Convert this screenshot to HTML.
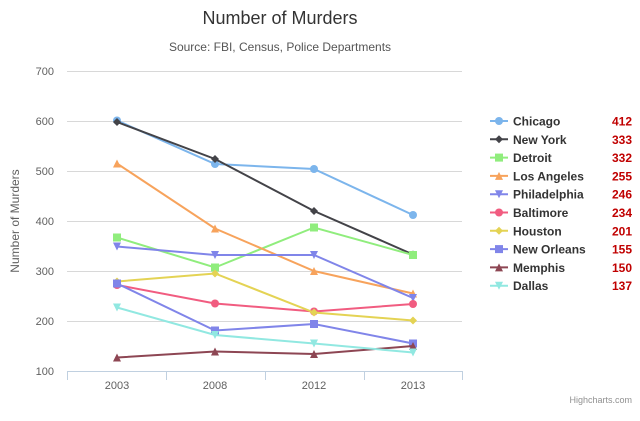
<!DOCTYPE html><html><head><style>body{margin:0;background:#fff}svg{font-family:"Liberation Sans",sans-serif}</style></head><body>
<svg width="640" height="416" xmlns="http://www.w3.org/2000/svg">
<text x="280" y="24" text-anchor="middle" font-size="18" fill="#333">Number of Murders</text>
<text x="280" y="51" text-anchor="middle" font-size="12" fill="#555">Source: FBI, Census, Police Departments</text>
<g stroke="#d8d8d8" stroke-width="1">
<line x1="67" x2="462" y1="71.5" y2="71.5"/><line x1="67" x2="462" y1="121.5" y2="121.5"/><line x1="67" x2="462" y1="171.5" y2="171.5"/><line x1="67" x2="462" y1="221.5" y2="221.5"/><line x1="67" x2="462" y1="271.5" y2="271.5"/><line x1="67" x2="462" y1="321.5" y2="321.5"/>
</g>
<g stroke="#c0d0e0"><line x1="67" x2="462" y1="371.5" y2="371.5"/>
<line x1="67.5" x2="67.5" y1="371" y2="380"/><line x1="166.5" x2="166.5" y1="371" y2="380"/><line x1="265.5" x2="265.5" y1="371" y2="380"/><line x1="364.5" x2="364.5" y1="371" y2="380"/><line x1="462.5" x2="462.5" y1="371" y2="380"/></g>
<g font-size="11" fill="#606060" text-anchor="end">
<text x="54" y="75">700</text><text x="54" y="125">600</text><text x="54" y="175">500</text><text x="54" y="225">400</text><text x="54" y="275">300</text><text x="54" y="325">200</text><text x="54" y="375">100</text></g>
<g font-size="11" fill="#606060" text-anchor="middle">
<text x="117" y="389">2003</text><text x="215" y="389">2008</text><text x="314" y="389">2012</text><text x="413" y="389">2013</text></g>
<text transform="translate(19,221) rotate(-90)" text-anchor="middle" font-size="12" fill="#606060">Number of Murders</text>
<text x="632" y="403" text-anchor="end" font-size="9" fill="#909090">Highcharts.com</text>
<g id="s" fill="none" stroke-width="2"></g>
<g id="l"></g>
</svg>
<script>
const xs=[117,215,314,413],Y=v=>371-(v-100)*0.5;
const S=[["Chicago","#7cb5ec",[601,514,504,412],"c",412],["New York","#434348",[598,524,420,333],"d",333],["Detroit","#90ed7d",[367,307,387,332],"s",332],["Los Angeles","#f7a35c",[515,385,300,255],"t",255],["Philadelphia","#8085e9",[349,332,332,246],"v",246],["Baltimore","#f15c80",[272,235,219,234],"c",234],["Houston","#e4d354",[279,295,217,201],"d",201],["New Orleans","#8085e9",[275,181,194,155],"s",155],["Memphis","#8d4653",[127,139,134,150],"t",150],["Dallas","#91e8e1",[227,172,155,137],"v",137]];
function sym(t,x,y,c){const r=4;if(t=="c")return`<circle cx="${x}" cy="${y}" r="${r}" fill="${c}"/>`;
if(t=="d")return`<path d="M${x} ${y-r}L${x+r} ${y}L${x} ${y+r}L${x-r} ${y}Z" fill="${c}"/>`;
if(t=="s")return`<rect x="${x-r}" y="${y-r}" width="${2*r}" height="${2*r}" fill="${c}"/>`;
if(t=="t")return`<path d="M${x} ${y-r}L${x+r} ${y+r}L${x-r} ${y+r}Z" fill="${c}"/>`;
return`<path d="M${x-r} ${y-r}L${x+r} ${y-r}L${x} ${y+r}Z" fill="${c}"/>`;}
let h="",l="";
S.forEach((s,i)=>{const p=s[2].map((v,j)=>xs[j]+","+Y(v)).join(" ");
h+=`<polyline points="${p}" stroke="${s[1]}" stroke-width="2" fill="none"/>`;
s[2].forEach((v,j)=>h+=sym(s[3],xs[j],Y(v),s[1]));
const y=121+i*18.3;
l+=`<line x1="490" x2="508" y1="${y}" y2="${y}" stroke="${s[1]}" stroke-width="2"/>`+sym(s[3],499,y,s[1])+
`<text x="513" y="${y+4.5}" font-size="12" font-weight="bold" fill="#333">${s[0]}</text><text x="632" y="${y+4.5}" font-size="12" font-weight="bold" fill="#c00000" text-anchor="end">${s[4]}</text>`;});
document.getElementById("s").innerHTML=h;document.getElementById("l").innerHTML=l;
</script></body></html>
